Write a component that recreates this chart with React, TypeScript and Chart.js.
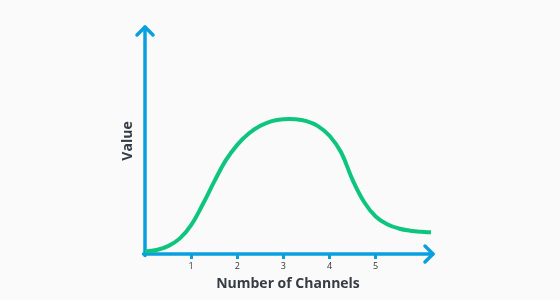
import React, { useEffect, useRef } from "react";
import { Chart, registerables } from "chart.js";

Chart.register(...registerables);

const xValues = [0, 0.25, 0.5, 0.75, 1, 1.25, 1.5, 1.75, 2, 2.25, 2.5, 2.75, 3, 3.25, 3.5, 3.75, 4, 4.25, 4.5, 4.75, 5, 5.25, 5.5, 5.75, 6, 6.2];
const yValues = [1.1, 1.8, 3.5, 6.8, 12.8, 21.9, 32.0, 41.4, 48.3, 53.3, 56.7, 58.8, 59.6, 59.6, 58.8, 56.6, 52.3, 45.0, 32.8, 23.0, 16.6, 13.2, 11.3, 10.3, 9.8, 9.6];
const tickValues = [1, 2, 3, 4, 5];
const xTitle = "Number of Channels";
const yTitle = "Value";

const AXIS_BLUE = "#0a9fdf";
const GREEN = "#0dc57c";
const TEXT = "#363c44";

const axisPlugin = {
  id: "arrowAxes",
  beforeDatasetsDraw(chart: any) {
    const { ctx, chartArea } = chart;
    const { left, bottom, top, right } = chartArea;
    ctx.save();
    ctx.strokeStyle = AXIS_BLUE;
    ctx.lineWidth = 3.5;
    ctx.lineCap = "round";
    ctx.lineJoin = "round";
    ctx.beginPath();
    ctx.moveTo(left, bottom + 1.5);
    ctx.lineTo(left, top - 1);
    ctx.stroke();
    ctx.beginPath();
    ctx.moveTo(left - 8, top + 7);
    ctx.lineTo(left, top - 1);
    ctx.lineTo(left + 8, top + 7);
    ctx.stroke();
    ctx.beginPath();
    ctx.moveTo(left - 1.5, bottom);
    ctx.lineTo(right + 2, bottom);
    ctx.stroke();
    ctx.beginPath();
    ctx.moveTo(right - 6, bottom - 8);
    ctx.lineTo(right + 2, bottom);
    ctx.lineTo(right - 6, bottom + 8);
    ctx.stroke();
    ctx.restore();
  },
};

export default function App() {
  const ref = useRef<HTMLCanvasElement>(null);
  useEffect(() => {
    document.body.style.margin = "0";
    document.body.style.background = "#fafafa";
    const chart = new Chart(ref.current!, {
      type: "line",
      data: {
        datasets: [
          {
            data: xValues.map((x, i) => ({ x, y: yValues[i] })),
            borderColor: GREEN,
            borderWidth: 4,
            pointRadius: 0,
            tension: 0.4,
            fill: false,
            clip: false as any,
          },
        ],
      },
      options: {
        animation: false,
        responsive: false,
        maintainAspectRatio: false,
        layout: { padding: { top: 28, right: 129, left: 110, bottom: 0 } },
        plugins: { legend: { display: false }, tooltip: { enabled: false } },
        scales: {
          x: {
            type: "linear",
            min: 0,
            max: 6.2,
            afterBuildTicks: (scale: any) => {
              scale.ticks = tickValues.map((v) => ({ value: v }));
            },
            afterFit: (scale: any) => {
              scale.height = 46;
            },
            ticks: {
              autoSkip: false,
              maxRotation: 0,
              padding: 2,
              color: "#333",
              font: { family: "Open Sans", size: 9 },
            },
            grid: {
              drawOnChartArea: false,
              drawTicks: true,
              tickLength: 5,
              color: AXIS_BLUE,
              lineWidth: 3,
            },
            border: { display: false },
            title: {
              display: true,
              text: xTitle,
              color: TEXT,
              font: { family: "Open Sans", size: 14, weight: "bold" },
              padding: { top: 0, bottom: 8 },
            },
          },
          y: {
            min: 0,
            max: 100,
            afterFit: (scale: any) => {
              scale.width = 35;
            },
            ticks: { display: false },
            grid: { display: false },
            border: { display: false },
            title: {
              display: true,
              text: yTitle,
              color: TEXT,
              font: { family: "Open Sans", size: 14, weight: "bold" },
              padding: { top: 10, bottom: 0 },
            },
          },
        },
      },
      plugins: [axisPlugin],
    });
    return () => chart.destroy();
  }, []);
  return (
    <div style={{ width: 560, height: 300, background: "#fafafa" }}>
      <canvas ref={ref} width={560} height={300} style={{ display: "block" }} />
    </div>
  );
}
